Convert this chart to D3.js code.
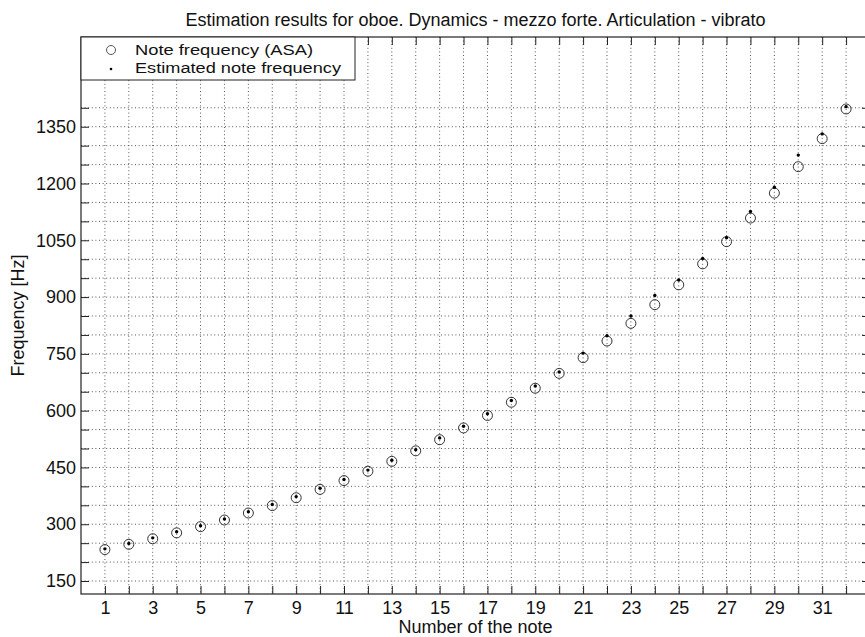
<!DOCTYPE html>
<html>
<head>
<meta charset="utf-8">
<script src="https://cdn.jsdelivr.net/npm/d3@7"></script>
<style>
  body { margin: 0; background: #fff; }
  svg { display: block; font-family: "Liberation Sans", Arial, sans-serif; }
</style>
</head>
<body>
<svg></svg>
<script>
let notes = [1, 2, 3, 4, 5, 6, 7, 8, 9, 10, 11, 12, 13, 14, 15, 16,
             17, 18, 19, 20, 21, 22, 23, 24, 25, 26, 27, 28, 29, 30, 31, 32];
// reference note frequencies (ASA)
let asaFreq = [233.08, 246.94, 261.63, 277.18, 293.66, 311.13, 329.63, 349.23,
               369.99, 392.00, 415.30, 440.00, 466.16, 493.88, 523.25, 554.37,
               587.33, 622.25, 659.26, 698.46, 739.99, 783.99, 830.61, 880.00,
               932.33, 987.77, 1046.50, 1108.73, 1174.66, 1244.51, 1318.51, 1396.91];
// estimated frequencies
let estFreq = [235, 249, 264, 280, 296, 314, 333, 352,
               373, 395, 418, 443, 469, 497, 528, 559,
               592, 627, 665, 702, 752, 798, 850, 904,
               945, 1002, 1057, 1126, 1190, 1275, 1331, 1403];
let yTicks = [150, 200, 250, 300, 350, 400, 450, 500, 550, 600, 650, 700, 750,
              800, 850, 900, 950, 1000, 1050, 1100, 1150, 1200, 1250, 1300, 1350, 1400];
let yLabels = [150, 300, 450, 600, 750, 900, 1050, 1200, 1350];
let xLabels = [1, 3, 5, 7, 9, 11, 13, 15, 17, 19, 21, 23, 25, 27, 29, 31];

let titleText = 'Estimation results for oboe. Dynamics - mezzo forte. Articulation - vibrato';
let legendNames = ['Note frequency (ASA)', 'Estimated note frequency'];

let w = 865;
let h = 637;
let padL = 81, padR = 870, padT = 37, padB = 594;

let svg = d3.select('svg').attr('width', w).attr('height', h);

let xScale = d3.scaleLinear().domain([0, 33]).range([padL, padR]);
let yScale = d3.scaleLinear().domain([115.7, 1587]).range([padB, padT]);

let plot = svg.append('g');

// dotted grid
plot.selectAll('.vgrid')
    .data(notes)
    .enter()
    .append('line')
    .attr('class', 'vgrid')
    .attr('x1', d => xScale(d)).attr('x2', d => xScale(d))
    .attr('y1', padT).attr('y2', padB)
    .attr('stroke', '#555')
    .attr('stroke-width', 1)
    .attr('stroke-dasharray', '1,2.6');

plot.selectAll('.hgrid')
    .data(yTicks)
    .enter()
    .append('line')
    .attr('class', 'hgrid')
    .attr('x1', padL).attr('x2', padR)
    .attr('y1', d => yScale(d)).attr('y2', d => yScale(d))
    .attr('stroke', '#555')
    .attr('stroke-width', 1)
    .attr('stroke-dasharray', '1,2.6');

// axes (ticks point inward, like matlab)
let fmtX = d => xLabels.includes(d) ? d : '';
let fmtY = d => yLabels.includes(d) ? d : '';

let styleAxis = g => {
  g.select('.domain').remove();
  g.selectAll('line').attr('stroke', '#222');
  g.selectAll('text').attr('fill', '#111').style('font-size', '18px');
};

svg.append('g')
   .attr('transform', 'translate(0,' + padB + ')')
   .call(d3.axisBottom(xScale).tickValues(notes).tickFormat(fmtX).tickSizeInner(-8).tickPadding(7))
   .call(styleAxis);

svg.append('g')
   .attr('transform', 'translate(0,' + padT + ')')
   .call(d3.axisTop(xScale).tickValues(notes).tickFormat('').tickSizeInner(-8))
   .call(styleAxis);

svg.append('g')
   .attr('transform', 'translate(' + padL + ',0)')
   .call(d3.axisLeft(yScale).tickValues(yTicks).tickFormat(fmtY).tickSizeInner(-8).tickPadding(5))
   .call(styleAxis);

svg.append('g')
   .attr('transform', 'translate(' + padR + ',0)')
   .call(d3.axisRight(yScale).tickValues(yTicks).tickFormat('').tickSizeInner(-8))
   .call(styleAxis);

svg.append('rect')
   .attr('x', padL).attr('y', padT)
   .attr('width', padR - padL).attr('height', padB - padT)
   .attr('fill', 'none')
   .attr('stroke', '#222')
   .attr('stroke-width', 1.2);

// markers
svg.selectAll('.asa')
   .data(notes)
   .enter()
   .append('circle')
   .attr('class', 'asa')
   .attr('cx', (d, i) => xScale(d))
   .attr('cy', (d, i) => yScale(asaFreq[i]))
   .attr('r', 5)
   .attr('fill', 'none')
   .attr('stroke', '#333')
   .attr('stroke-width', 1);

svg.selectAll('.est')
   .data(notes)
   .enter()
   .append('circle')
   .attr('class', 'est')
   .attr('cx', (d, i) => xScale(d))
   .attr('cy', (d, i) => yScale(estFreq[i]))
   .attr('r', 1.7)
   .attr('fill', '#000');

// legend
let legWidths = [178, 206];
let leg = svg.append('g');
leg.append('rect')
   .attr('x', padL).attr('y', padT)
   .attr('width', 274).attr('height', 43)
   .attr('fill', '#fff')
   .attr('stroke', '#222')
   .attr('stroke-width', 1);
leg.append('circle')
   .attr('cx', 111).attr('cy', 50).attr('r', 4.5)
   .attr('fill', 'none').attr('stroke', '#555');
leg.append('circle')
   .attr('cx', 111).attr('cy', 69).attr('r', 1.3)
   .attr('fill', '#000');
leg.selectAll('text')
   .data(legendNames)
   .enter()
   .append('text')
   .attr('x', 135)
   .attr('y', (d, i) => 50 + i * 18)
   .attr('dy', '0.35em')
   .attr('textLength', (d, i) => legWidths[i])
   .attr('lengthAdjust', 'spacingAndGlyphs')
   .style('font-size', '15.5px')
   .attr('fill', '#111')
   .text(d => d);

// title and labels
svg.append('text')
   .attr('x', (padL + padR) / 2)
   .attr('y', 20)
   .attr('dy', '0.35em')
   .attr('text-anchor', 'middle')
   .style('font-size', '18px')
   .attr('fill', '#111')
   .text(titleText);

svg.append('text')
   .attr('x', (padL + padR) / 2)
   .attr('y', 627)
   .attr('dy', '0.35em')
   .attr('text-anchor', 'middle')
   .style('font-size', '18px')
   .attr('fill', '#111')
   .text('Number of the note');

svg.append('text')
   .attr('transform', 'translate(18,' + ((padT + padB) / 2) + ') rotate(-90)')
   .attr('dy', '0.35em')
   .attr('text-anchor', 'middle')
   .style('font-size', '18px')
   .attr('fill', '#111')
   .text('Frequency [Hz]');
</script>
</body>
</html>
